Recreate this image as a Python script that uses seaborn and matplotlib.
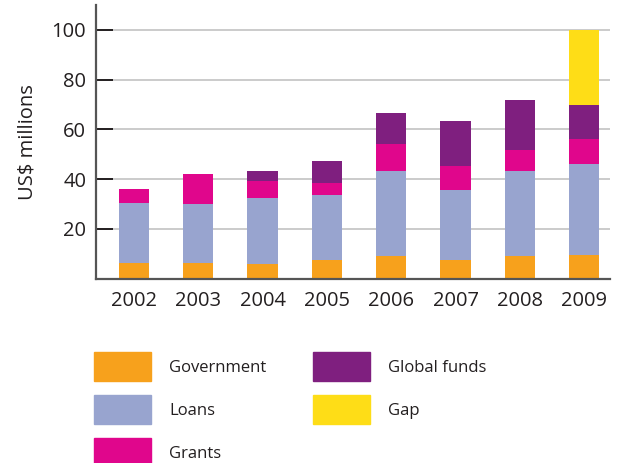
import matplotlib
matplotlib.use("Agg")
import matplotlib.pyplot as plt
import matplotlib.patches as mpatches
import seaborn as sns
import pandas as pd
import numpy as np

years = ["2002", "2003", "2004", "2005", "2006", "2007", "2008", "2009"]
government = [6.2, 6.2, 6.0, 7.6, 9.2, 7.6, 9.2, 9.4]
loans = [24.1, 23.8, 26.4, 26.0, 34.0, 28.0, 34.0, 36.6]
grants = [5.7, 12.0, 6.8, 4.8, 10.9, 9.6, 8.5, 10.1]
global_funds = [0.0, 0.0, 4.0, 8.8, 12.4, 18.1, 20.1, 13.6]
gap = [0.0, 0.0, 0.0, 0.0, 0.0, 0.0, 0.0, 30.3]

series_names = ["Government", "Loans", "Grants", "Global funds", "Gap"]
series_vals = [government, loans, grants, global_funds, gap]
colors = ["#F7A11C", "#98A4CF", "#E0068C", "#7F1F7F", "#FEDD17"]

sns.set_theme(style="white")
plt.rcParams["font.family"] = ["Open Sans", "DejaVu Sans"]

fig = plt.figure(figsize=(6.17, 4.63), dpi=100)
ax = fig.add_axes([96 / 617, 1 - 278.5 / 463, (610 - 96) / 617, (278.5 - 5) / 463])

cum = np.cumsum(np.array(series_vals), axis=0)
# draw from the top layer down so that each lower cumulative bar overlays
for i in range(len(series_names) - 1, -1, -1):
    df = pd.DataFrame({"year": years, "value": cum[i]})
    sns.barplot(data=df, x="year", y="value", color=colors[i], width=0.47,
                saturation=1, ax=ax, errorbar=None, linewidth=0, edgecolor="none")

ax.set_xlim(-0.59, 7.4)
ax.set_ylim(0, 110)
ax.set_yticks([20, 40, 60, 80, 100])
ax.yaxis.grid(True, color="#BDBDBD", linewidth=1.1)
ax.set_axisbelow(True)
for s in ["top", "right"]:
    ax.spines[s].set_visible(False)
for s in ["left", "bottom"]:
    ax.spines[s].set_color("#555555")
    ax.spines[s].set_linewidth(1.6)

ax.tick_params(axis="y", direction="in", length=12, width=1.4, color="#231F20",
               labelsize=14.5, pad=7, labelcolor="#231F20", left=True)
ax.tick_params(axis="x", length=0, labelsize=14.5, pad=9, labelcolor="#231F20")
ax.set_xlabel("")
ax.set_ylabel("US$ millions", fontsize=14.5, color="#231F20", labelpad=10)

handles = [mpatches.Patch(color=c, label=n) for c, n in zip(colors, series_names)]
fig.legend(handles=handles, ncol=2, loc="upper left",
           bbox_to_anchor=(94 / 617, 1 - 352 / 463), frameon=False,
           fontsize=12, handlelength=3.4, handleheight=2.28, handletextpad=1.1,
           labelspacing=0.86, columnspacing=2.8, borderpad=0, borderaxespad=0,
           labelcolor="#231F20")

fig.savefig("out.png", dpi=100)
